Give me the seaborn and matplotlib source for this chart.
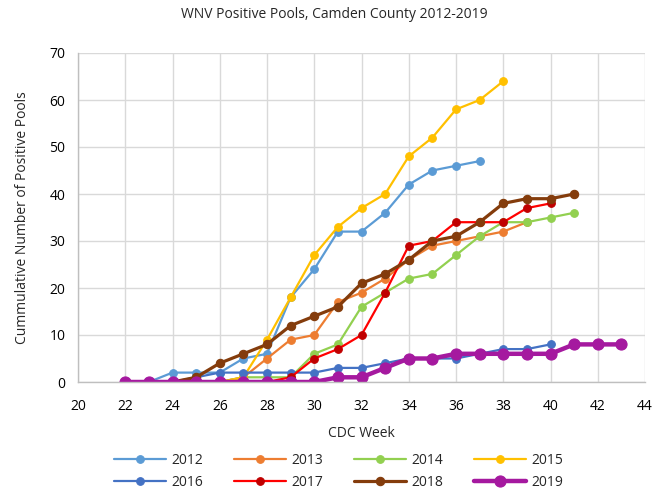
import pandas as pd
import seaborn as sns
import matplotlib.pyplot as plt

sns.set_theme(style="white")
plt.rcParams["font.family"] = ["Open Sans", "DejaVu Sans"]

years = ["2012", "2013", "2014", "2015", "2016", "2017", "2018", "2019"]
start_week = 22
counts = {
    "2012": [0, 0, 2, 2, 2, 5, 6, 18, 24, 32, 32, 36, 42, 45, 46, 47],
    "2013": [0, 0, 0, 0, 0, 1, 5, 9, 10, 17, 19, 22, 26, 29, 30, 31, 32, 34],
    "2014": [0, 0, 0, 0, 0, 1, 1, 1, 6, 8, 16, 19, 22, 23, 27, 31, 34, 34, 35, 36],
    "2015": [0, 0, 0, 0, 0, 1, 9, 18, 27, 33, 37, 40, 48, 52, 58, 60, 64],
    "2016": [0, 0, 0, 1, 2, 2, 2, 2, 2, 3, 3, 4, 5, 5, 5, 6, 7, 7, 8],
    "2017": [0, 0, 0, 0, 0, 0, 0, 1, 5, 7, 10, 19, 29, 30, 34, 34, 34, 37, 38],
    "2018": [0, 0, 0, 1, 4, 6, 8, 12, 14, 16, 21, 23, 26, 30, 31, 34, 38, 39, 39, 40],
    "2019": [0, 0, 0, 0, 0, 0, 0, 0, 0, 1, 1, 3, 5, 5, 6, 6, 6, 6, 6, 8, 8, 8],
}

colors = {"2012": "#5B9BD5", "2013": "#ED7D31", "2014": "#92D050", "2015": "#FFC000",
          "2016": "#4472C4", "2017": "#FF0000", "2018": "#843C0C", "2019": "#A5199F"}
face = {"2017": "#C00000"}
widths = {"2018": 2.3, "2019": 3.2}
msizes = {"2018": 6, "2019": 8}

rows = []
for yr in years:
    for i, v in enumerate(counts[yr]):
        rows.append({"Year": yr, "Week": start_week + i, "Pools": v})
df = pd.DataFrame(rows)

fig = plt.figure(figsize=(6.69, 4.92), dpi=100)
ax = fig.add_axes([78 / 669, 1 - 382 / 492, (645 - 78) / 669, (382 - 53) / 492])

for yr in years:
    sns.lineplot(
        data=df[df["Year"] == yr], x="Week", y="Pools", ax=ax,
        color=colors[yr], linewidth=widths.get(yr, 1.6),
        marker="o", markersize=msizes.get(yr, 5.5),
        markerfacecolor=face.get(yr, colors[yr]),
        markeredgecolor=face.get(yr, colors[yr]), markeredgewidth=0.8,
        label=yr,
    )

ax.set_xlim(20, 44)
ax.set_ylim(0, 70)
ax.set_xticks(range(20, 45, 2))
ax.set_yticks(range(0, 71, 10))
ax.grid(True, color="#D9D9D9", linewidth=1)
ax.set_axisbelow(True)
for s in ["top", "right"]:
    ax.spines[s].set_visible(False)
for s in ["left", "bottom"]:
    ax.spines[s].set_color("#BFBFBF")
    ax.spines[s].set_linewidth(1)
ax.tick_params(labelsize=10, colors="#000000", length=0)
ax.tick_params(axis="x", pad=12)
ax.tick_params(axis="y", pad=9)

ax.set_xlabel("CDC Week", fontsize=10, labelpad=9)
ax.set_ylabel("Cummulative Number of Positive Pools", fontsize=10, labelpad=14)
fig.suptitle("WNV Positive Pools, Camden County 2012-2019", fontsize=10, y=0.985)

# legend filled row by row like the original
handles, labels = ax.get_legend_handles_labels()
order = [0, 4, 1, 5, 2, 6, 3, 7]
ax.legend([handles[i] for i in order], [labels[i] for i in order],
          loc="upper center", bbox_to_anchor=(0.46, -0.2), ncol=4, frameon=False,
          fontsize=10, handlelength=3.7, columnspacing=2.25, labelspacing=0.45,
          handletextpad=0.4, borderaxespad=0)

fig.savefig("out.png", dpi=100)
